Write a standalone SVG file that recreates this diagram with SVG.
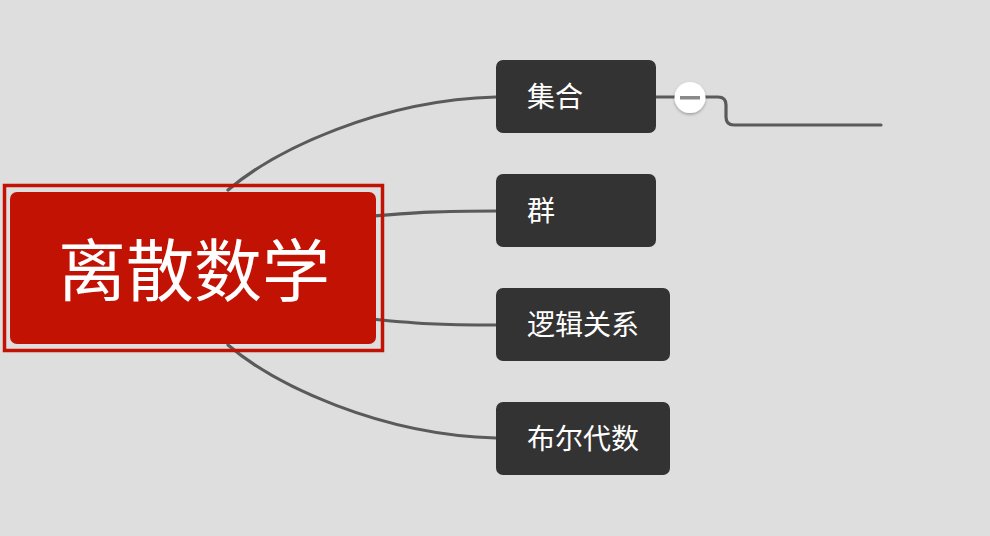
<svg xmlns="http://www.w3.org/2000/svg" width="990" height="536" viewBox="0 0 990 536">
<style>
.conn{fill:none;stroke:#5a5a5a;stroke-width:3.2;stroke-linecap:round}
.node rect{fill:#333333}
.lbl{fill:#ffffff;font-family:"Noto Sans CJK SC","Noto Sans",sans-serif;font-size:28px;font-weight:400}
.title{fill:#ffffff;font-family:"Noto Sans CJK SC","Noto Sans",sans-serif;font-size:68px;font-weight:400}
</style>
<defs>
<filter id="sh" x="-50%" y="-50%" width="200%" height="200%">
<feDropShadow dx="0" dy="1.5" stdDeviation="1.5" flood-color="#000" flood-opacity="0.3"/>
</filter>
</defs>
<rect x="0" y="0" width="990" height="536" fill="#dedede"/>
<g id="connectors">
<path class="conn" d="M 228 190 C 275 150, 380 100, 496 97"/>
<path class="conn" d="M 360 217 C 420 212, 440 211, 496 211"/>
<path class="conn" d="M 360 318 C 420 324, 440 325, 496 325"/>
<path class="conn" d="M 228 345 C 275 385, 380 435, 496 438"/>
<path class="conn" d="M 656 97 L 718 97 Q 726 97 726 105 L 726 117 Q 726 125 734 125 L 881 125"/>
</g>
<g id="central">
<rect x="4.5" y="185.5" width="378" height="165" fill="none" stroke="#c21204" stroke-width="3.5"/>
<rect x="10" y="192" width="366" height="152" rx="7" fill="#c21204"/>
<text class="title" x="194" y="296" text-anchor="middle">离散数学</text>
</g>
<g id="n1" class="node">
<rect x="496" y="60" width="160" height="73" rx="7"/>
<text class="lbl" x="527" y="107">集合</text>
</g>
<g id="n2" class="node">
<rect x="496" y="174" width="160" height="73" rx="7"/>
<text class="lbl" x="527" y="221">群</text>
</g>
<g id="n3" class="node">
<rect x="496" y="288" width="174" height="73" rx="7"/>
<text class="lbl" x="527" y="335">逻辑关系</text>
</g>
<g id="n4" class="node">
<rect x="496" y="402" width="174" height="73" rx="7"/>
<text class="lbl" x="527" y="449">布尔代数</text>
</g>
<g id="collapse">
<circle cx="690" cy="97.5" r="15.5" fill="#ffffff" filter="url(#sh)"/>
<rect x="680" y="96" width="20" height="3.5" fill="#8a8a8a"/>
</g>
</svg>
